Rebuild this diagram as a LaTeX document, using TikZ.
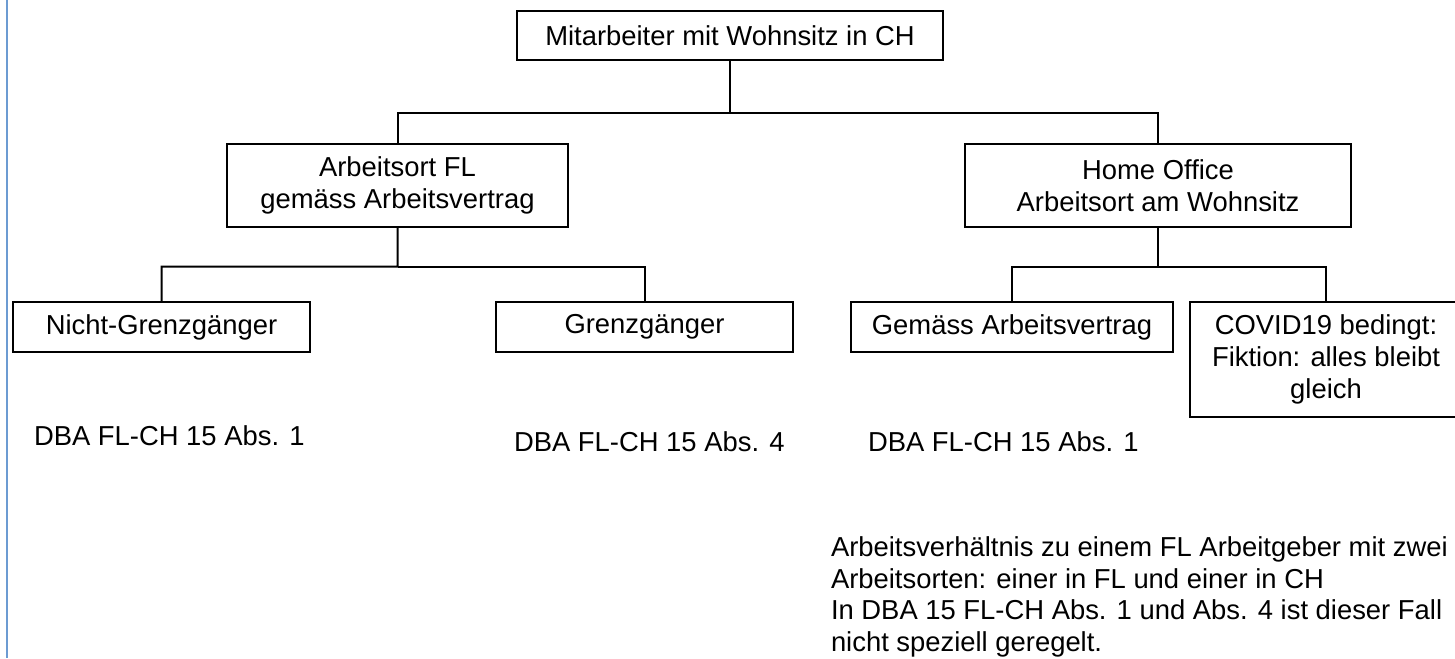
\documentclass[tikz,border=0pt]{standalone}
\usepackage{fontspec}
\setmainfont{Liberation Sans}
\usetikzlibrary{calc,positioning}
\definecolor{rulecol}{RGB}{108,155,210}

\begin{document}
\begin{tikzpicture}[x=0.5pt,y=-0.5pt,font=\fontsize{13.7}{16}\selectfont,line width=1pt]
\tikzstyle{box}=[draw,inner sep=0pt,minimum height=25pt,align=center]
\tikzstyle{tallbox}=[box,minimum height=41.5pt]
\tikzstyle{ref}=[inner sep=0pt,anchor=base west]
\useasboundingbox (0,0) rectangle (1455,658);
\draw[rulecol] (7,0) -- (7,658);
% boxes
\node[box,minimum width=213pt,minimum height=24.5pt] (top) at (730,35.5) {Mitarbeiter mit Wohnsitz in CH};
\node[tallbox,minimum width=170.5pt] (arbfl) at (397.5,185.5) {Arbeitsort FL\\gemäss Arbeitsvertrag};
\node[tallbox,minimum width=193pt] (home) at (1158,185.5) {Home Office\\Arbeitsort am Wohnsitz};
\node[box,minimum width=148.5pt] (nicht) at (161.5,327) {Nicht-Grenzgänger};
\node[box,minimum width=148.5pt] (grenz) at (644.5,327) {Grenzgänger};
\node[box,minimum width=161pt] (gemaess) at (1012,327) {Gemäss Arbeitsvertrag};
\node[box,minimum width=136pt,minimum height=57.5pt] (covid) at (1326,359.5) {COVID19 bedingt:\\Fiktion: alles bleibt\\gleich};
% references
\node[ref] (dbaone) at (33,445) {DBA FL-CH 15 Abs. 1};
\node[ref] (dbafour) at (513,451) {DBA FL-CH 15 Abs. 4};
\node[ref] (dbaoneb) at (867,451) {DBA FL-CH 15 Abs. 1};
\node[inner sep=0pt,anchor=north west,align=left,font=\fontsize{13.7}{15.75}\selectfont] (note) at (830,536)
  {Arbeitsverhältnis zu einem FL Arbeitgeber mit zwei\\Arbeitsorten: einer in FL und einer in CH\\In DBA 15 FL-CH Abs. 1 und Abs. 4 ist dieser Fall\\nicht speziell geregelt.};
% connectors
\coordinate (splita) at ($(top.south)!0.63!(top.south|-arbfl.north)$);
\coordinate (splitb) at ($(arbfl.south)!0.53!(arbfl.south|-nicht.north)$);
\coordinate (splitc) at ($(home.south)!0.53!(home.south|-gemaess.north)$);
\draw (top.south) -- (splita) -| (arbfl.north);
\draw (splita) -| (home.north);
\draw (arbfl.south) -- (splitb) -| (nicht.north);
\draw (splitb) -| (grenz.north);
\draw (home.south) -- (splitc) -| (gemaess.north);
\draw (splitc) -| (covid.north);
\end{tikzpicture}
\end{document}
